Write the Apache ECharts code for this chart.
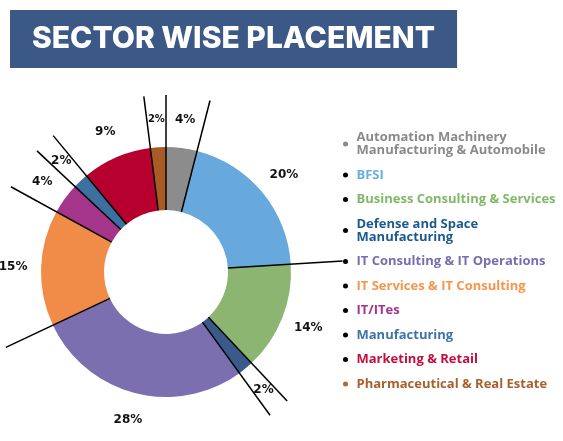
<!DOCTYPE html>
<html>
<head>
<meta charset="utf-8">
<script src="https://cdn.jsdelivr.net/npm/echarts@6/dist/echarts.min.js"></script>
<style>
  html, body { margin: 0; padding: 0; background: #fff; }
  #chart { width: 563px; height: 441px; }
</style>
</head>
<body>
<div id="chart"></div>
<script>
const sectors = [
  'Automation Machinery\nManufacturing & Automobile',
  'BFSI',
  'Business Consulting & Services',
  'Defense and Space\nManufacturing',
  'IT Consulting & IT Operations',
  'IT Services & IT Consulting',
  'IT/ITes',
  'Manufacturing',
  'Marketing & Retail',
  'Pharmaceutical & Real Estate'
]
const share = [4, 20, 14, 2, 28, 15, 4, 2, 9, 2]

const sliceColors = ['#8c8c8c', '#67a9dc', '#8bb570', '#3b5a8c', '#7b6faf', '#f08c48', '#a5358b', '#3c70a0', '#b6002e', '#a95b26']
const textColors = ['#8a8a8a', '#6aaee2', '#80b868', '#1d5a8c', '#7a6cb2', '#f5964c', '#a6338c', '#3e74aa', '#c20f3c', '#a8602c']
const bulletColors = ['#8a8a8a', '#000', '#000', '#000', '#000', '#000', '#000', '#000', '#000', '#b06a36']

const center = [166, 272]
const innerR = 62
const outerR = 125
const lineR = 177

// slice boundaries, as running totals
const bounds = []
let run = 0
share.forEach(v => { bounds.push(run); run += v })

const chart = echarts.init(document.getElementById('chart'))

chart.setOption({
  animation: false,
  title: {
    text: 'SECTOR WISE PLACEMENT',
    left: 10,
    top: 10,
    backgroundColor: '#3c5886',
    padding: [12, 22, 12, 22],
    textStyle: {
      color: '#fff',
      fontFamily: 'Inter',
      fontWeight: 800,
      fontSize: 30,
      lineHeight: 34
    }
  },
  legend: {
    orient: 'vertical',
    left: 338,
    top: 126,
    icon: 'circle',
    itemWidth: 12,
    itemHeight: 5,
    itemGap: 11.5,
    selectedMode: false,
    textStyle: {
      fontFamily: 'Open Sans',
      fontWeight: 700,
      fontSize: 13,
      lineHeight: 13
    },
    data: sectors.map((name, i) => ({
      name,
      itemStyle: { color: bulletColors[i] },
      textStyle: { color: textColors[i] }
    }))
  },
  polar: {
    center: center,
    radius: lineR
  },
  angleAxis: {
    type: 'value',
    min: 0,
    max: 100,
    startAngle: 90,
    clockwise: true,
    show: false
  },
  radiusAxis: {
    type: 'value',
    min: 0,
    max: lineR,
    show: false
  },
  series: [
    {
      type: 'pie',
      center: center,
      radius: [innerR, outerR],
      startAngle: 90,
      clockwise: true,
      label: { show: false },
      labelLine: { show: false },
      emphasis: { disabled: true },
      data: sectors.map((name, i) => ({
        name,
        value: share[i],
        itemStyle: { color: sliceColors[i] }
      }))
    },
    {
      // transparent ring outside the donut, only carries the % labels
      type: 'pie',
      center: center,
      radius: [outerR, 175],
      startAngle: 90,
      clockwise: true,
      silent: true,
      itemStyle: { color: 'transparent' },
      label: {
        position: 'inside',
        formatter: '{c}%',
        color: '#111',
        fontFamily: 'DejaVu Sans',
        fontWeight: 'bold',
        fontSize: 12
      },
      labelLine: { show: false },
      emphasis: { disabled: true },
      data: sectors.map((name, i) => ({
        name,
        value: share[i],
        label: i === 9 ? { fontSize: 10 } : undefined
      }))
    },
    {
      type: 'custom',
      coordinateSystem: 'polar',
      z: 5,
      silent: true,
      data: bounds.map(b => [lineR, b]),
      renderItem: function (params, api) {
        const a = api.value(1)
        const p0 = api.coord([innerR, a])
        const p1 = api.coord([lineR, a])
        return {
          type: 'line',
          shape: { x1: p0[0], y1: p0[1], x2: p1[0], y2: p1[1] },
          style: { stroke: '#000', lineWidth: 1.5 }
        }
      }
    }
  ]
})
</script>
</body>
</html>
